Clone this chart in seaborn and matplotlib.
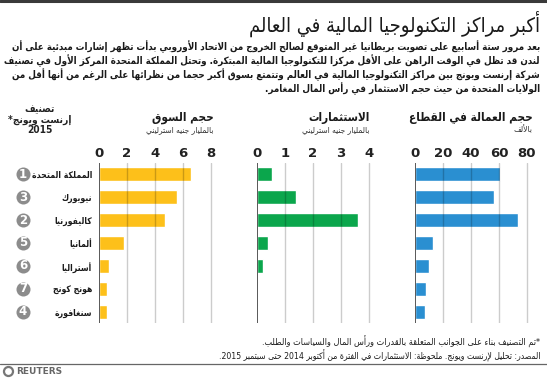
import re
import numpy as np
import pandas as pd
import matplotlib
matplotlib.use("Agg")
import matplotlib.pyplot as plt
import matplotlib.transforms as mtransforms
from matplotlib.lines import Line2D
import seaborn as sns

# ---------------- data ----------------
title = "أكبر مراكز التكنولوجيا المالية في العالم"
intro_lines = [
    "بعد مرور ستة أسابيع على تصويت بريطانيا غير المتوقع لصالح الخروج من الاتحاد الأوروبي بدأت تظهر إشارات مبدئية على أن",
    "لندن قد تظل في الوقت الراهن على الأقل مركزا للتكنولوجيا المالية المبتكرة. وتحتل المملكة المتحدة المركز الأول في تصنيف",
    "شركة إرنست ويونج بين مراكز التكنولوجيا المالية في العالم وتتمتع بسوق أكبر حجما من نظرائها على الرغم من أنها أقل من",
    "الولايات المتحدة من حيث حجم الاستثمار في رأس المال المغامر.",
]
rank_header = ["تصنيف", "إرنست ويونج*", "2015"]
countries = ["المملكة المتحدة", "نيويورك", "كاليفورنيا", "ألمانيا", "أستراليا", "هونج كونج", "سنغافورة"]
ranks = [1, 3, 2, 5, 6, 7, 4]
market = [6.6, 5.6, 4.7, 1.8, 0.7, 0.6, 0.6]
investment = [0.55, 1.4, 3.6, 0.4, 0.2, 0.05, 0.05]
employment = [61, 56.5, 73.5, 13, 10, 8, 7]
panel_titles = ["حجم السوق", "الاستثمارات", "حجم العمالة في القطاع"]
panel_units = ["بالمليار جنيه استرليني", "بالمليار جنيه استرليني", "بالألف"]
panel_ticks = [[0, 2, 4, 6, 8], [0, 1, 2, 3, 4], [0, 20, 40, 60, 80]]
footnotes = [
    "*تم التصنيف بناء على الجوانب المتعلقة بالقدرات ورأس المال والسياسات والطلب.",
    "المصدر: تحليل لإرنست ويونج. ملحوظة: الاستثمارات في الفترة من أكتوبر 2014 حتى سبتمبر 2015.",
]
source_brand = "REUTERS"

# ---------------- Arabic shaping (presentation forms + visual order) ----------------
_DUAL = {0x0626: 0xFE89, 0x0628: 0xFE8F, 0x062A: 0xFE95, 0x062B: 0xFE99, 0x062C: 0xFE9D,
         0x062D: 0xFEA1, 0x062E: 0xFEA5, 0x0633: 0xFEB1, 0x0634: 0xFEB5, 0x0635: 0xFEB9,
         0x0636: 0xFEBD, 0x0637: 0xFEC1, 0x0638: 0xFEC5, 0x0639: 0xFEC9, 0x063A: 0xFECD,
         0x0641: 0xFED1, 0x0642: 0xFED5, 0x0643: 0xFED9, 0x0644: 0xFEDD, 0x0645: 0xFEE1,
         0x0646: 0xFEE5, 0x0647: 0xFEE9, 0x064A: 0xFEF1}
_RIGHT = {0x0622: 0xFE81, 0x0623: 0xFE83, 0x0624: 0xFE85, 0x0625: 0xFE87, 0x0627: 0xFE8D,
          0x0629: 0xFE93, 0x062F: 0xFEA9, 0x0630: 0xFEAB, 0x0631: 0xFEAD, 0x0632: 0xFEAF,
          0x0648: 0xFEED, 0x0649: 0xFEEF}
_NONE = {0x0621: 0xFE80}
_LAMALEF = {0x0622: 0xFEF5, 0x0623: 0xFEF7, 0x0625: 0xFEF9, 0x0627: 0xFEFB}


def _shape(s):
    res = []
    i, n = 0, len(s)
    while i < n:
        o = ord(s[i])
        prev = ord(s[i - 1]) if i > 0 else None
        jp = prev is not None and prev in _DUAL and (o in _DUAL or o in _RIGHT)
        if o == 0x0644 and i + 1 < n and ord(s[i + 1]) in _LAMALEF:
            res.append(chr(_LAMALEF[ord(s[i + 1])] + (1 if jp else 0)))
            i += 2
            continue
        nxt = ord(s[i + 1]) if i + 1 < n else None
        jn = o in _DUAL and nxt is not None and (nxt in _DUAL or nxt in _RIGHT)
        if o in _DUAL:
            f = _DUAL[o] + (3 if (jp and jn) else 1 if jp else 2 if jn else 0)
        elif o in _RIGHT:
            f = _RIGHT[o] + (1 if jp else 0)
        elif o in _NONE:
            f = _NONE[o]
        else:
            f = o
        res.append(chr(f))
        i += 1
    return "".join(res)


def ar(s):
    shaped = _shape(s)
    toks = re.findall(r"[0-9A-Za-z]+|[^0-9A-Za-z]", shaped)
    return "".join(reversed(toks))


# ---------------- figure ----------------
sns.set_theme(style="white")
plt.rcParams["font.family"] = ["DejaVu Sans"]
W, H = 547, 378
fig = plt.figure(figsize=(W / 100, H / 100), dpi=100)
fig.patch.set_facecolor("white")


def fx(x):
    return x / W


def fy(y):
    return 1 - y / H


renderer = fig.canvas.get_renderer()


def text_width(s, fs, **kw):
    t = fig.text(0, 0, s, fontsize=fs, **kw)
    w = t.get_window_extent(renderer=renderer).width
    t.remove()
    return w


def fit_size(strings, target_w, base=8, **kw):
    w = max(text_width(s, base, **kw) for s in strings)
    return base * target_w / w


def fit_text(x, y, s, target_w, base, **kw):
    fs = fit_size([s], target_w, base, **kw)
    return fig.text(fx(x), fy(y), s, fontsize=fs, **kw)


# top rule
fig.add_artist(Line2D([0, 1], [fy(1.2)] * 2, color="#3a3a3a", lw=2.2))

# title
fit_text(540, 24, ar(title), 292, 14, ha="right", va="center", color="#1a1a1a",
         fontstretch="condensed")

# intro paragraph
body_kw = dict(fontweight="bold", fontstretch="condensed")
body_fs = fit_size([ar(intro_lines[0])], 533, 8, **body_kw)
for i, line in enumerate(intro_lines):
    fig.text(fx(540), fy(47 + 14 * i), ar(line), fontsize=body_fs,
             ha="right", va="center", color="#1a1a1a", **body_kw)

# rank header
rh_fs = fit_size([ar(rank_header[1])], 64, 8, **body_kw)
for i, s in enumerate(rank_header):
    fig.text(fx(40), fy(109 + 10.5 * i), ar(s), fontsize=rh_fs,
             ha="center", va="center", color="#222", **body_kw)

df = pd.DataFrame({"country": countries, "rank": ranks, "market": market,
                   "investment": investment, "employment": employment})

panels = [
    dict(col="market", x0=99, ppu=14, xmax=8.35, color="#FDC01A", hx=214),
    dict(col="investment", x0=257, ppu=28, xmax=4.2, color="#0BA64C", hx=370),
    dict(col="employment", x0=415, ppu=1.4, xmax=84, color="#2A8FD1", hx=533),
]
top, bot = 163, 323
country_fs = fit_size([ar(c) for c in countries], 60, 8, **body_kw)

for k, p in enumerate(panels):
    ax = fig.add_axes([fx(p["x0"]), fy(bot), p["xmax"] * p["ppu"] / W, (bot - top) / H])
    sns.barplot(data=df, x=p["col"], y="country", order=countries, orient="h",
                color=p["color"], saturation=1, width=0.57, ax=ax, zorder=2)
    ax.set_xlim(0, p["xmax"])
    ax.set_ylim(6.48, -0.48)
    ax.set_xlabel("")
    ax.set_ylabel("")
    for sp in ax.spines.values():
        sp.set_visible(False)
    ax.grid(False)
    ax.set_facecolor("none")
    ticks = panel_ticks[k]
    for t in ticks[1:]:
        ax.axvline(t, color="black", alpha=0.2, lw=1, zorder=3)
    ax.axvline(0, color="#3c3c3c", lw=1.2, zorder=4)
    ax.set_xticks(ticks)
    ax.set_xticklabels([str(t) for t in ticks], fontweight="bold", fontsize=9.5, color="#222")
    ax.xaxis.tick_top()
    ax.tick_params(axis="x", length=0, pad=2.5)
    if k == 0:
        ax.set_yticks(range(len(countries)))
        ax.set_yticklabels([ar(c) for c in countries], fontsize=country_fs, color="#1a1a1a",
                           **body_kw)
        ax.tick_params(axis="y", length=0, pad=5)
        trans = mtransforms.blended_transform_factory(fig.transFigure, ax.transData)
        ax.scatter([fx(23)] * len(ranks), range(len(ranks)), s=102, color="#8c8c8c",
                   transform=trans, clip_on=False, zorder=5, linewidths=0)
        for i, r in enumerate(ranks):
            ax.text(fx(23), i, str(r), transform=trans, ha="center", va="center",
                    color="white", fontsize=8.5, fontweight="bold", zorder=6, clip_on=False)
    else:
        ax.set_yticks([])
    # headers
    fig.text(fx(p["hx"]), fy(118), ar(panel_titles[k]), fontsize=8.5, ha="right",
             va="center", color="#1a1a1a", **body_kw)
    fig.text(fx(p["hx"]), fy(130), ar(panel_units[k]), fontsize=6, ha="right",
             va="center", color="#333", fontstretch="condensed")

# footnotes
fit_text(540, 342, ar(footnotes[0]), 277, 7, ha="right", va="center", color="#1a1a1a",
         fontstretch="condensed")
fit_text(540, 356, ar(footnotes[1]), 323, 7, ha="right", va="center", color="#1a1a1a",
         fontstretch="condensed")

# bottom rule and brand
fig.add_artist(Line2D([0, 1], [fy(363.5)] * 2, color="#666", lw=0.9))
fig.add_artist(Line2D([fx(8)], [fy(371)], marker="o", markersize=6.5, markerfacecolor="white",
                      markeredgecolor="#777", markeredgewidth=1.6, lw=0))
fig.text(fx(16), fy(371), source_brand, fontsize=6.5, fontweight="bold", color="#666",
         ha="left", va="center")

fig.savefig("out.png", dpi=100, facecolor="white")
